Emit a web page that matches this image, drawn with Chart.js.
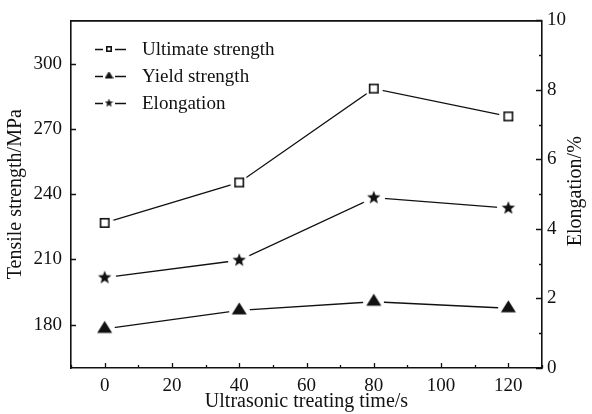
<!DOCTYPE html>
<html>
<head>
<meta charset="utf-8">
<script src="https://cdn.jsdelivr.net/npm/chart.js@4/dist/chart.umd.min.js"></script>
<style>
  html, body { margin: 0; padding: 0; background: #fff; }
  #wrap { width: 592px; height: 414px; }
</style>
</head>
<body>
<div id="wrap"><canvas id="tensileChart" width="592" height="414"></canvas></div>
<script>
// treating time (s)
const times = [0, 40, 80, 120];
// MPa, left axis
const ultimateStrength = [226.8, 245.4, 288.6, 275.8];
const yieldStrength = [178, 186.5, 190.5, 187.5];
// %, right axis
const elongation = [2.6, 3.1, 4.9, 4.6];

const xTicks = [0, 20, 40, 60, 80, 100, 120];
const xMinorTicks = [-10, 10, 30, 50, 70, 90, 110, 130];
const leftTicks = [180, 210, 240, 270, 300];
const rightTicks = [0, 2, 4, 6, 8, 10];
const rightMinorTicks = [1, 3, 5, 7, 9];

const FONT = "'Liberation Serif', 'DejaVu Serif', serif";
const INK = "#111";

// marker images, with a white halo so the line stops short of the marker
function makeMarker(kind, size, halo) {
  const c = document.createElement("canvas");
  const s = size + halo * 2;
  c.width = s;
  c.height = s;
  const g = c.getContext("2d");
  const m = s / 2;
  if (halo > 0) {
    g.fillStyle = "#fff";
    g.beginPath();
    g.arc(m, m, size / 2 + halo, 0, Math.PI * 2);
    g.fill();
  }
  g.fillStyle = INK;
  g.strokeStyle = INK;
  const r = size / 2;
  if (kind === "square") {
    g.lineWidth = 1.6;
    g.fillStyle = "#fff";
    g.fillRect(m - r, m - r, size, size);
    g.strokeRect(m - r + 0.8, m - r + 0.8, size - 1.6, size - 1.6);
  } else if (kind === "triangle") {
    // centroid on the point
    const h = size * 0.8;
    g.beginPath();
    g.moveTo(m, m - h * 2 / 3);
    g.lineTo(m + r, m + h / 3);
    g.lineTo(m - r, m + h / 3);
    g.closePath();
    g.fill();
  } else {
    g.beginPath();
    for (let i = 0; i < 10; i++) {
      const rad = i % 2 === 0 ? r : r * 0.42;
      const a = -Math.PI / 2 + i * Math.PI / 5;
      const px = m + rad * Math.cos(a);
      const py = m + rad * Math.sin(a);
      if (i === 0) g.moveTo(px, py);
      else g.lineTo(px, py);
    }
    g.closePath();
    g.fill();
  }
  return c;
}

const squareMark = makeMarker("square", 10, 4);
const triangleMark = makeMarker("triangle", 15, 3);
const starMark = makeMarker("star", 14, 4);

const legendItems = [
  { label: "Ultimate strength", mark: makeMarker("square", 6, 0) },
  { label: "Yield strength", mark: makeMarker("triangle", 9, 0) },
  { label: "Elongation", mark: makeMarker("star", 9, 0) },
];

function toPoints(values) {
  return values.map((v, i) => ({ x: times[i], y: v }));
}

// inward tick marks, drawn from the scales themselves
const inwardTicks = {
  id: "inwardTicks",
  afterDatasetsDraw(chart) {
    const { ctx, scales } = chart;
    const { x, y, y1 } = scales;
    ctx.save();
    ctx.strokeStyle = INK;
    ctx.lineWidth = 1.3;
    ctx.beginPath();
    xTicks.forEach((v) => {
      const px = Math.round(x.getPixelForValue(v)) + 0.5;
      ctx.moveTo(px, y.bottom);
      ctx.lineTo(px, y.bottom - 5);
    });
    xMinorTicks.forEach((v) => {
      const px = Math.round(x.getPixelForValue(v)) + 0.5;
      ctx.moveTo(px, y.bottom);
      ctx.lineTo(px, y.bottom - 3);
    });
    leftTicks.forEach((v) => {
      const py = Math.round(y.getPixelForValue(v)) + 0.5;
      ctx.moveTo(x.left, py);
      ctx.lineTo(x.left + 5, py);
    });
    rightTicks.forEach((v) => {
      const py = Math.round(y1.getPixelForValue(v)) + 0.5;
      ctx.moveTo(x.right, py);
      ctx.lineTo(x.right - 6, py);
    });
    rightMinorTicks.forEach((v) => {
      const py = Math.round(y1.getPixelForValue(v)) + 0.5;
      ctx.moveTo(x.right, py);
      ctx.lineTo(x.right - 3, py);
    });
    ctx.stroke();
    // frame top
    ctx.lineWidth = 1.6;
    ctx.beginPath();
    ctx.moveTo(x.left, y.top + 0.5);
    ctx.lineTo(x.right, y.top + 0.5);
    ctx.stroke();

    // right axis title reads bottom to top, like the left one
    ctx.font = "20px " + FONT;
    ctx.fillStyle = INK;
    ctx.textAlign = "center";
    ctx.textBaseline = "middle";
    ctx.translate(576, (y1.top + y1.bottom) / 2 - 3);
    ctx.rotate(-Math.PI / 2);
    ctx.fillText("Elongation/%", 0, 0);
    ctx.restore();
  },
};

// legend inside the plot, line - marker - line
const innerLegend = {
  id: "innerLegend",
  afterDraw(chart) {
    const { ctx } = chart;
    ctx.save();
    ctx.font = "19px " + FONT;
    ctx.fillStyle = INK;
    ctx.strokeStyle = INK;
    ctx.lineWidth = 1.6;
    ctx.textBaseline = "middle";
    legendItems.forEach((item, i) => {
      const cy = 49 + i * 27;
      ctx.beginPath();
      ctx.moveTo(95, cy + 0.5);
      ctx.lineTo(103, cy + 0.5);
      ctx.moveTo(115, cy + 0.5);
      ctx.lineTo(126, cy + 0.5);
      ctx.stroke();
      const m = item.mark;
      ctx.drawImage(m, 109 - m.width / 2, cy - m.height / 2);
      ctx.fillText(item.label, 142, cy + 1);
    });
    ctx.restore();
  },
};

const axisTitle = (text, pad) => ({
  display: true,
  text: text,
  color: INK,
  font: { family: FONT, size: 20 },
  padding: pad,
});

new Chart(document.getElementById("tensileChart").getContext("2d"), {
  type: "line",
  data: {
    datasets: [
      {
        label: "Ultimate strength",
        data: toPoints(ultimateStrength),
        yAxisID: "y",
        borderColor: INK,
        borderWidth: 1.3,
        pointStyle: squareMark,
        tension: 0,
      },
      {
        label: "Yield strength",
        data: toPoints(yieldStrength),
        yAxisID: "y",
        borderColor: INK,
        borderWidth: 1.3,
        pointStyle: triangleMark,
        tension: 0,
      },
      {
        label: "Elongation",
        data: toPoints(elongation),
        yAxisID: "y1",
        borderColor: INK,
        borderWidth: 1.3,
        pointStyle: starMark,
        tension: 0,
      },
    ],
  },
  options: {
    responsive: false,
    animation: false,
    devicePixelRatio: 1,
    layout: { padding: { top: 19, left: 0, right: 0, bottom: 0 } },
    plugins: {
      legend: { display: false },
      tooltip: { enabled: false },
    },
    scales: {
      x: {
        type: "linear",
        min: -10,
        max: 130,
        afterBuildTicks: (s) => { s.ticks = xTicks.map((v) => ({ value: v })); },
        afterFit: (s) => { s.height = 46; },
        grid: { display: false, drawTicks: false },
        border: { display: true, color: INK, width: 1.6 },
        ticks: { color: INK, font: { family: FONT, size: 19 }, padding: 7, maxRotation: 0 },
        title: axisTitle("Ultrasonic treating time/s", { top: 0, bottom: 0 }),
      },
      y: {
        position: "left",
        min: 160,
        max: 320,
        afterBuildTicks: (s) => { s.ticks = leftTicks.map((v) => ({ value: v })); },
        afterFit: (s) => { s.width = 71; },
        grid: { display: false, drawTicks: false },
        border: { display: true, color: INK, width: 1.6 },
        ticks: { color: INK, font: { family: FONT, size: 19 }, padding: 9 },
        title: axisTitle("Tensile strength/MPa", { top: 4, bottom: 0 }),
      },
      y1: {
        position: "right",
        min: 0,
        max: 10,
        afterBuildTicks: (s) => { s.ticks = rightTicks.map((v) => ({ value: v })); },
        afterFit: (s) => { s.width = 50; },
        grid: { display: false, drawTicks: false },
        border: { display: true, color: INK, width: 1.6 },
        ticks: { color: INK, font: { family: FONT, size: 19 }, padding: 5 },
        title: { display: false },
      },
    },
  },
  plugins: [inwardTicks, innerLegend],
});
</script>
</body>
</html>
